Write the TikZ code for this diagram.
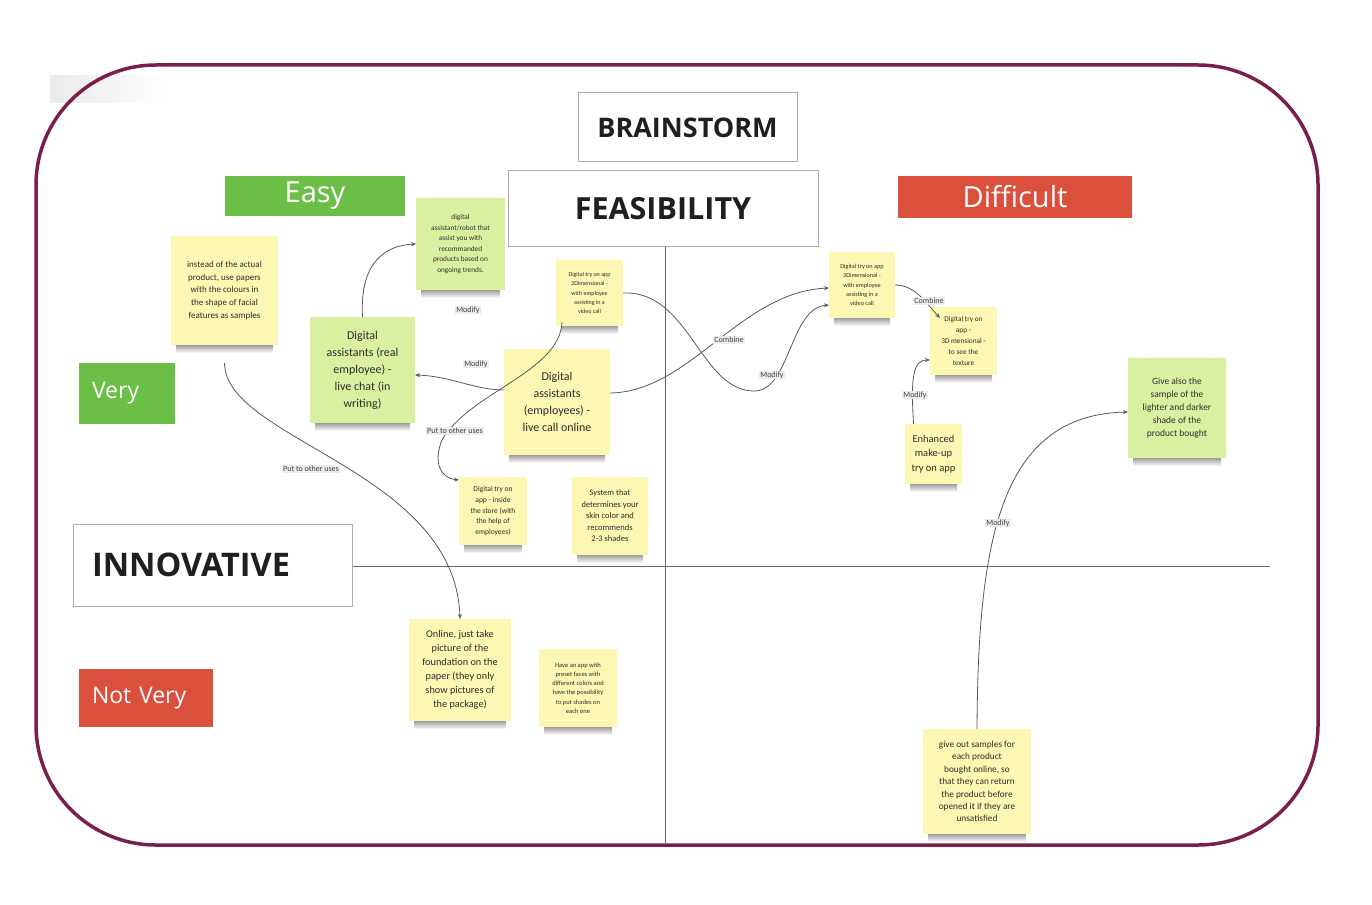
\documentclass[tikz,border=0pt]{standalone}
\usepackage{fontspec}
\setmainfont{Open Sans}
\newfontfamily\notefont{Carlito}
\usetikzlibrary{arrows.meta}
\definecolor{framecol}{HTML}{7A1F4C}
\definecolor{noteyellow}{HTML}{FCF7B2}
\definecolor{notegreen}{HTML}{D8F0A0}
\definecolor{tagreen}{HTML}{6BBE46}
\definecolor{tagred}{HTML}{DA503C}
\begin{document}
\begin{tikzpicture}[x=1pt,y=-1pt,
  frame/.style={draw=framecol, line width=3.5pt, rounded corners=120pt},
  axis/.style={draw=black!60, line width=0.8pt},
  titlebox/.style={draw=gray!65, line width=1pt, fill=white, text=black!88, font=\bfseries, inner sep=0pt, outer sep=0pt},
  tag/.style={draw=none, text=white, inner sep=0pt, outer sep=0pt},
  note/.style={fill=noteyellow, align=center, text=black!82, inner sep=1pt, outer sep=0pt},
  gnote/.style={note, fill=notegreen},
  notesh/.style={top color=black!38, bottom color=white, draw=none},
  conn/.style={draw=black!65, line width=0.8pt, -{Stealth[length=5pt,width=4pt]}},
  lbl/.style={fill=gray!15, text=black!75, font=\notefont\fontsize{8}{9}\selectfont, inner sep=1pt}
]
\useasboundingbox (0,0) rectangle (1372,904);
\fill[white] (0,0) rectangle (1372,904);
\shade[left color=gray!16, right color=white] (50,76) rectangle (170,103);

% frame
\draw[frame] (36,65) rectangle (1318,845);

% axes
\draw[axis] (665,247) -- (665,843);
\draw[axis] (352,566) -- (1270,566);

% title boxes
\node[titlebox, minimum width=219, minimum height=69, font=\bfseries\fontsize{27}{30}\selectfont] (brain) at (687.5,127.5) {BRAINSTORM};
\node[titlebox, minimum width=310, minimum height=75, font=\bfseries\fontsize{30.5}{34}\selectfont] (feas) at (663,208.5) {FEASIBILITY};
\node[titlebox, minimum height=82, text width=241, inner xsep=19pt, align=left, font=\bfseries\fontsize{32.5}{36}\selectfont] (innov) at (212.5,565) {INNOVATIVE};

% tags
\node[tag, fill=tagreen, minimum width=180, minimum height=40, font=\fontsize{29}{32}\selectfont] (easy) at (315,196) {Easy};
\node[tag, fill=tagred, minimum width=234, minimum height=42, font=\fontsize{29}{32}\selectfont] (diff) at (1015,197) {Difficult};
\node[tag, fill=tagreen, minimum height=61, text width=70, inner xsep=13pt, align=left, font=\fontsize{23}{26}\selectfont] (very) at (127,393.5) {Very};
\node[tag, fill=tagred, minimum height=58, text width=108, inner xsep=13pt, align=left, font=\fontsize{23}{26}\selectfont] (notvery) at (146,698) {Not Very};

% sticky notes
\node[note, minimum width=107, minimum height=109, font=\notefont\fontsize{9}{12.7}\selectfont] (instead) at (224.5,290.5)
  {instead of the actual\\product, use papers\\with the colours in\\the shape of facial\\features as samples};
\node[gnote, minimum width=89, minimum height=92, font=\notefont\fontsize{7.3}{10.5}\selectfont] (robot) at (460.5,244)
  {digital\\assistant/robot that\\assist you with\\recommanded\\products based on\\ongoing trends.};
\node[note, minimum width=67, minimum height=66, font=\notefont\fontsize{6}{9.3}\selectfont] (twod) at (589.5,293)
  {Digital try on app\\2Dimensional -\\with employee\\assisting in a\\video call};
\node[note, minimum width=66, minimum height=66, font=\notefont\fontsize{6.2}{9.3}\selectfont] (threeemp) at (862,285)
  {Digital try on app\\3Dimensional -\\with employee\\assisting in a\\video call};
\node[note, minimum width=67, minimum height=68, font=\notefont\fontsize{7.3}{11}\selectfont] (threetex) at (963.5,341)
  {Digital try on\\app -\\3D mensional -\\to see the\\texture};
\node[gnote, minimum width=105, minimum height=106, font=\notefont\fontsize{12}{17}\selectfont] (livechat) at (362.5,370)
  {Digital\\assistants (real\\employee) -\\live chat (in\\writing)};
\node[note, minimum width=106, minimum height=106, font=\notefont\fontsize{12}{17}\selectfont] (livecall) at (557,402)
  {Digital\\assistants\\(employees) -\\live call online};
\node[note, minimum width=68, minimum height=68, font=\notefont\fontsize{7.5}{10.8}\selectfont] (instore) at (493,511)
  {Digital try on\\app - inside\\the store (with\\the help of\\employees)};
\node[note, minimum width=76, minimum height=78, font=\notefont\fontsize{8.5}{11.5}\selectfont] (system) at (610,516)
  {System that\\determines your\\skin color and\\recommends\\2-3 shades};
\node[note, minimum width=57, minimum height=60, font=\notefont\fontsize{10.5}{14.5}\selectfont] (enhanced) at (933.5,454)
  {Enhanced\\make-up\\try on app};
\node[gnote, minimum width=98, minimum height=100, font=\notefont\fontsize{9.5}{13}\selectfont] (givealso) at (1177,408)
  {Give also the\\sample of the\\lighter and darker\\shade of the\\product bought};
\node[note, minimum width=102, minimum height=102, font=\notefont\fontsize{10.3}{14}\selectfont] (online) at (460,670)
  {Online, just take\\picture of the\\foundation on the\\paper (they only\\show pictures of\\the package)};
\node[note, minimum width=78, minimum height=78, font=\notefont\fontsize{6.5}{9.2}\selectfont] (haveapp) at (578,688)
  {Have an app with\\preset faces with\\different colors and\\have the possibility\\to put shades on\\each one};
\node[note, minimum width=108, minimum height=105, font=\notefont\fontsize{9.3}{12.4}\selectfont] (giveout) at (977,781.5)
  {give out samples for\\each product\\bought online, so\\that they can return\\the product before\\opened it if they are\\unsatisfied};

% note shadows (soft band under each note)
\foreach \n in {instead,robot,twod,threeemp,threetex,livechat,livecall,instore,system,enhanced,givealso,online,haveapp,giveout}
  \shade[notesh] ([xshift=5pt]\n.south west) rectangle ([xshift=-5pt,yshift=-8pt]\n.south east);

% connectors
\draw[conn] (livechat.north) .. controls (360,270) and (378,246) .. (robot.west);
\draw[conn] ([yshift=12pt]livecall.west) .. controls (475,390) and (450,376) .. ([yshift=-5pt]livechat.east);
\draw[conn] ([xshift=6pt,yshift=4pt]twod.south west) .. controls (560,372) and (470,392) .. (442,440)
  .. controls (433,462) and (440,478) .. ([yshift=-3pt]instore.north west);
\draw[conn] (twod.east) .. controls (690,290) and (700,392) .. (755,391)
  .. controls (790,390) and (790,308) .. ([yshift=-20pt]threeemp.west);
\draw[conn] ([yshift=9pt]livecall.east) .. controls (690,392) and (740,292) .. ([yshift=-3pt]threeemp.west);
\draw[conn] (threeemp.east) .. controls (915,285) and (925,302) .. ([xshift=10pt,yshift=-11pt]threetex.north west);
\draw[conn] ([xshift=-20pt]enhanced.north) .. controls (911,380) and (912,360) .. ([yshift=-19pt]threetex.west);
\draw[conn] (giveout.north) .. controls (978,540) and (1000,415) .. ([yshift=-4pt]givealso.west);
\draw[conn] ([yshift=-18pt]instead.south) .. controls (225,440) and (455,470) .. (online.north);

% connector labels
\node[lbl] (l1) at (468,310) {Modify};
\node[lbl] (l2) at (476,364) {Modify};
\node[lbl] (l3) at (455,431) {Put to other uses};
\node[lbl] (l4) at (729,340) {Combine};
\node[lbl] (l5) at (772,375) {Modify};
\node[lbl] (l6) at (929,301) {Combine};
\node[lbl] (l7) at (915,395) {Modify};
\node[lbl] (l8) at (998,523) {Modify};
\node[lbl] (l9) at (311,469) {Put to other uses};
\end{tikzpicture}
\end{document}
